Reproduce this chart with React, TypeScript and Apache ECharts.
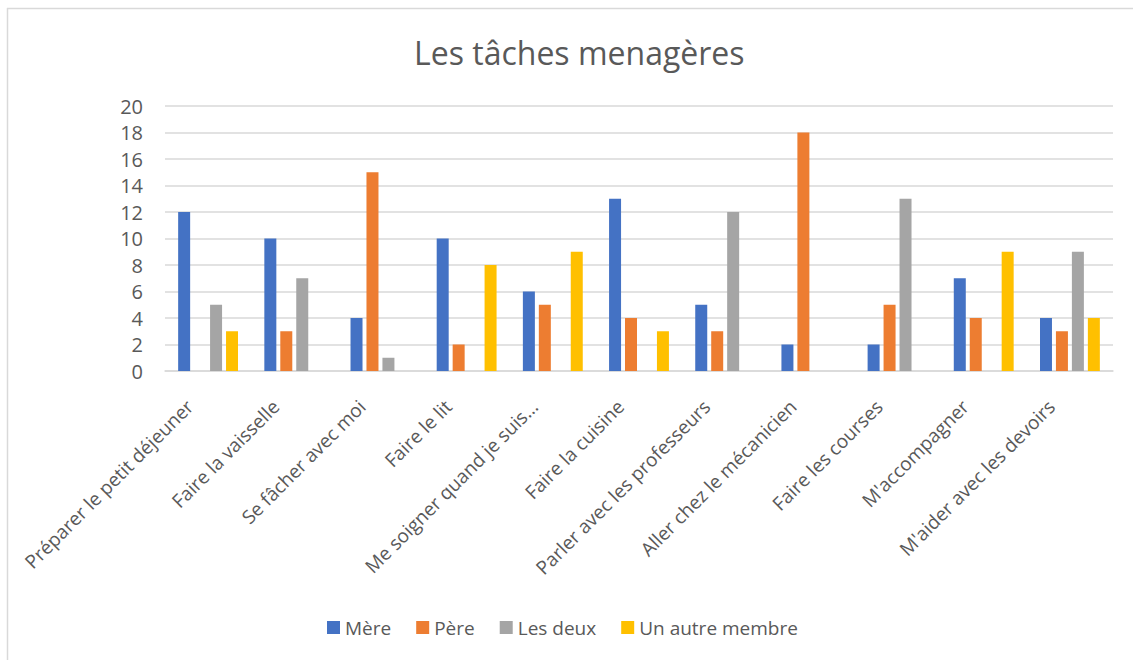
import React, { useEffect, useRef } from "react";
import * as echarts from "echarts";

const categories = [
  "Préparer le petit déjeuner",
  "Faire la vaisselle",
  "Se fâcher avec moi",
  "Faire le lit",
  "Me soigner quand je suis…",
  "Faire la cuisine",
  "Parler avec les professeurs",
  "Aller chez le mécanicien",
  "Faire les courses",
  "M'accompagner",
  "M'aider avec les devoirs",
];

const mere = [12, 10, 4, 10, 6, 13, 5, 2, 2, 7, 4];
const pere = [0, 3, 15, 2, 5, 4, 3, 18, 5, 4, 3];
const lesDeux = [5, 7, 1, 0, 0, 0, 12, 0, 13, 0, 9];
const autre = [3, 0, 0, 8, 9, 3, 0, 0, 0, 9, 4];

const seriesNames = ["Mère", "Père", "Les deux", "Un autre membre"];
const seriesColors = ["#4472C4", "#ED7D31", "#A5A5A5", "#FFC000"];
const seriesData = [mere, pere, lesDeux, autre];

const FONT = "'Open Sans', sans-serif";
const TXT = "#595959";

export default function App() {
  const ref = useRef<HTMLDivElement>(null);
  useEffect(() => {
    if (!ref.current) return;
    const chart = echarts.init(ref.current, undefined, { renderer: "svg" });
    chart.setOption({
      animation: false,
      backgroundColor: "#ffffff",
      title: {
        text: "Les tâches menagères",
        left: 409,
        top: 31,
        textStyle: { fontFamily: FONT, fontSize: 32, fontWeight: "normal", color: TXT },
      },
      legend: {
        bottom: 18,
        left: 322,
        itemWidth: 13,
        itemHeight: 13,
        itemGap: 25,
        icon: "rect",
        textStyle: { fontFamily: FONT, fontSize: 19, color: TXT },
        data: seriesNames,
      },
      graphic: [
        { type: "line", shape: { x1: 7, y1: 8.5, x2: 1133, y2: 8.5 }, style: { stroke: "#d9d9d9", lineWidth: 1.5 } },
        { type: "line", shape: { x1: 7.5, y1: 8, x2: 7.5, y2: 660 }, style: { stroke: "#d9d9d9", lineWidth: 1.5 } },
      ],
      grid: { left: 165, right: 20, top: 106, bottom: 289, containLabel: false },
      xAxis: {
        type: "category",
        data: categories,
        axisLine: { lineStyle: { color: "#d9d9d9", width: 1.5 } },
        axisTick: { show: false },
        axisLabel: {
          interval: 0,
          rotate: 45,
          margin: 14,
          padding: [0, 26, 0, 0],
          fontFamily: FONT,
          fontSize: 19,
          color: TXT,
        },
      },
      yAxis: {
        type: "value",
        min: 0,
        max: 20,
        interval: 2,
        axisLine: { show: false },
        axisTick: { show: false },
        splitLine: { lineStyle: { color: "#d9d9d9", width: 1.5 } },
        axisLabel: { fontFamily: FONT, fontSize: 20, color: TXT, margin: 22 },
      },
      series: seriesNames.map((name, i) => ({
        name,
        type: "bar",
        data: seriesData[i],
        barWidth: 12,
        barGap: "33%",
        itemStyle: { color: seriesColors[i] },
      })),
    });
    return () => chart.dispose();
  }, []);
  return (
    <div
      ref={ref}
      style={{ position: "absolute", left: 0, top: 0, width: 1133, height: 660 }}
    />
  );
}
